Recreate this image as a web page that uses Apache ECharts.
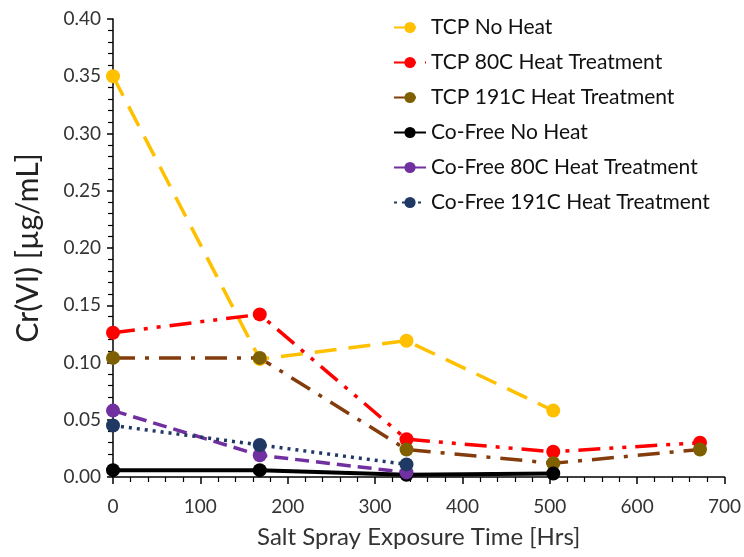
<!DOCTYPE html>
<html>
<head>
<meta charset="utf-8">
<script src="https://cdn.jsdelivr.net/npm/echarts@6/dist/echarts.min.js"></script>
<style>
  html, body { margin: 0; padding: 0; background: #fff; }
  #chart { width: 744px; height: 557px; }
</style>
</head>
<body>
<div id="chart"></div>
<script>
// hours of salt spray exposure
var hours = [0, 168, 336, 504, 672];

// Cr(VI) in ug/mL
var tcpNoHeat = [0.350, 0.103, 0.119, 0.058];
var tcp80 = [0.126, 0.142, 0.033, 0.022, 0.030];
var tcp191 = [0.104, 0.104, 0.024, 0.012, 0.024];
var coNoHeat = [0.006, 0.006, 0.002, 0.003];
var co80 = [0.058, 0.019, 0.004];
var co191 = [0.045, 0.028, 0.011];

var FONT = 'Lato';

function pairs(vals) {
	var out = [];
	for (var i = 0; i < vals.length; i++) out.push([hours[i], vals[i]]);
	return out;
}

function mk(name, vals, lineColor, dotColor, dash, w) {
	return {
		name : name,
		type : 'line',
		data : pairs(vals),
		symbol : 'circle',
		symbolSize : 14,
		showSymbol : true,
		itemStyle : { color : dotColor },
		lineStyle : { color : lineColor, width : w || 3, type : dash }
	};
}

var chart = echarts.init(document.getElementById('chart'));
chart.setOption({
	animation : false,
	textStyle : { fontFamily : FONT },
	grid : { left : 113, right : 18, top : 19, bottom : 80 },
	legend : {
		orient : 'vertical',
		left : 388,
		top : 12,
		itemWidth : 32,
		itemHeight : 14,
		itemGap : 14,
		textStyle : { fontFamily : FONT, fontSize : 21, color : '#111' },
		data : ['TCP No Heat', 'TCP 80C Heat Treatment', 'TCP 191C Heat Treatment',
			'Co-Free No Heat', 'Co-Free 80C Heat Treatment', 'Co-Free 191C Heat Treatment']
	},
	xAxis : {
		type : 'value',
		min : 0, max : 700, interval : 100,
		name : 'Salt Spray Exposure Time [Hrs]',
		nameLocation : 'middle',
		nameGap : 48,
		nameTextStyle : { fontFamily : FONT, fontSize : 24, color : '#333' },
		axisLine : { show : true, lineStyle : { color : '#000', width : 1.5 } },
		axisTick : { show : true, inside : false, length : 7, lineStyle : { color : '#000', width : 1.5 } },
		minorTick : { show : true, splitNumber : 5, length : 5, lineStyle : { color : '#000', width : 1.2 } },
		splitLine : { show : false },
		axisLabel : { fontFamily : FONT, fontSize : 19, color : '#333', margin : 20 }
	},
	yAxis : {
		type : 'value',
		min : 0, max : 0.4, interval : 0.05,
		name : 'Cr(VI) [µg/mL]',
		nameLocation : 'middle',
		nameGap : 70,
		nameRotate : 90,
		nameTextStyle : { fontFamily : FONT, fontSize : 30, color : '#222' },
		axisLine : { show : true, lineStyle : { color : '#000', width : 1.5 } },
		axisTick : { show : true, inside : false, length : 6, lineStyle : { color : '#000', width : 1.5 } },
		minorTick : { show : true, splitNumber : 5, length : 5, lineStyle : { color : '#000', width : 1.2 } },
		splitLine : { show : false },
		axisLabel : {
			fontFamily : FONT, fontSize : 19, color : '#333', margin : 12,
			formatter : function(v) { return v.toFixed(2); }
		}
	},
	series : [
		mk('TCP No Heat', tcpNoHeat, '#FFC000', '#FFC000', [22, 12], 3.5),
		mk('TCP 80C Heat Treatment', tcp80, '#FF0000', '#FF0000', [22, 9, 4, 9, 4, 9], 3.5),
		mk('TCP 191C Heat Treatment', tcp191, '#843C0C', '#7F6000', [22, 10, 4, 10], 3.5),
		mk('Co-Free No Heat', coNoHeat, '#000000', '#000000', 'solid', 4),
		mk('Co-Free 80C Heat Treatment', co80, '#7030A0', '#7030A0', [14, 7], 3.5),
		mk('Co-Free 191C Heat Treatment', co191, '#1F3864', '#1F3864', [3, 5], 3.5)
	]
});
</script>
</body>
</html>
